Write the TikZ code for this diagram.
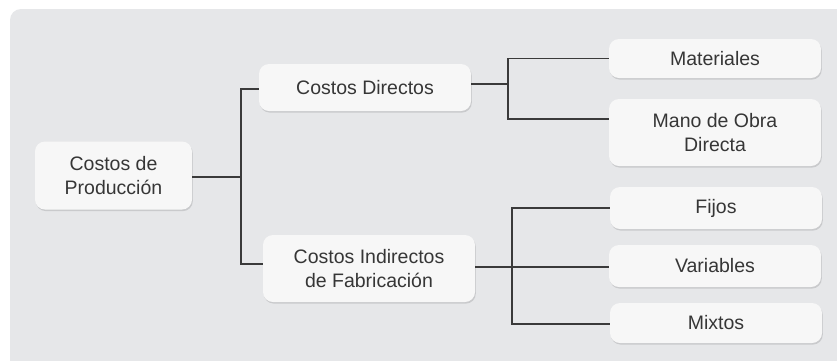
\documentclass[tikz,border=0pt]{standalone}
\usepackage{fontspec}
\setmainfont{Liberation Sans}
\usetikzlibrary{shadows}
\definecolor{bgc}{HTML}{E6E7E9}
\definecolor{boxc}{HTML}{F7F7F7}
\definecolor{shc}{HTML}{C9CACC}
\definecolor{txtc}{HTML}{363636}
\definecolor{linec}{HTML}{3A3A3A}
\tikzset{
  box/.style={rectangle, rounded corners=10pt, fill=boxc, text=txtc,
    align=center, inner sep=0pt,
    font=\fontsize{19.5}{24}\selectfont,
    general shadow={fill=shc, shadow xshift=0.8pt, shadow yshift=-1.6pt}},
  conn/.style={draw=linec, line width=1.2pt}
}
\begin{document}
\begin{tikzpicture}[x=1pt,y=-1pt]
\useasboundingbox (0,0) rectangle (837,360);
\fill[white] (0,0) rectangle (837,360);
\begin{scope}
\clip (0,0) rectangle (837,360);
\fill[bgc, rounded corners=11pt] (10,9) rectangle (880,400);
\end{scope}

\node[box, minimum width=157pt, minimum height=68pt] (cp) at (113.5,175.5) {Costos de\\Producción};
\node[box, minimum width=212pt, minimum height=47pt] (cd) at (365,87.5) {Costos Directos};
\node[box, minimum width=212pt, minimum height=67pt] (ci) at (369,268.5) {Costos Indirectos\\de Fabricación};
\node[box, minimum width=212pt, minimum height=39pt] (mat) at (715,58.5) {Materiales};
\node[box, minimum width=212pt, minimum height=67pt] (mo) at (715,132.5) {Mano de Obra\\Directa};
\node[box, minimum width=212pt, minimum height=42pt] (fij) at (716,208) {Fijos};
\node[box, minimum width=212pt, minimum height=42pt] (var) at (715,266) {Variables};
\node[box, minimum width=212pt, minimum height=40pt] (mix) at (716,323) {Mixtos};

\coordinate (j1) at (241,0);
\coordinate (j2) at (508,0);
\coordinate (j3) at (512,0);

% level 1
\draw[conn] ([yshift=-1.5pt]cp.east) -- ([yshift=-1.5pt]cp.east -| j1);
\draw[conn] ([yshift=-1.5pt]cd.west) -| ([yshift=4.5pt]ci.west -| j1) -- ([yshift=4.5pt]ci.west);

% level 2a
\draw[conn] ([yshift=3.5pt]cd.east) -- ([yshift=3.5pt]cd.east -| j2);
\draw[conn] (mat.west) -| ([yshift=13.5pt]mo.west -| j2) -- ([yshift=13.5pt]mo.west);

% level 2b
\draw[conn] ([yshift=1.5pt]ci.east) -- ([yshift=1.5pt]ci.east -| j3);
\draw[conn] (fij.west) -| ([yshift=-1pt]mix.west -| j3) -- ([yshift=-1pt]mix.west);
\draw[conn] ([yshift=-1pt]var.west) -- ([yshift=-1pt]var.west -| j3);
\end{tikzpicture}
\end{document}
